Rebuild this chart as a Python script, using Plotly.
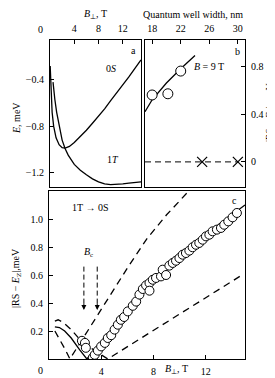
import plotly.graph_objects as go

# ---------------- data ----------------
# Panel a: energies vs B_perp
b_0S = [0.03, 0.1, 0.2, 0.35, 0.6, 1.0, 1.5, 2.0, 2.5, 3.2, 4, 5, 6, 7, 8, 9, 10, 11, 12, 13, 14, 15]
e_0S = [-0.28, -0.42, -0.55, -0.68, -0.8, -0.9, -0.96, -0.985, -0.99, -0.975, -0.94, -0.89, -0.835, -0.775, -0.715, -0.65, -0.58, -0.515, -0.445, -0.375, -0.3, -0.228]
b_1T = [0.5, 0.6, 0.8, 1.1, 1.5, 2.0, 2.5, 3.0, 4, 5, 6, 7, 8, 9, 10, 11, 12, 13, 14, 15]
e_1T = [-0.42, -0.49, -0.57, -0.68, -0.8, -0.92, -0.995, -1.05, -1.13, -1.18, -1.22, -1.255, -1.28, -1.298, -1.305, -1.303, -1.298, -1.292, -1.286, -1.28]

# Panel b: vs quantum well width
w_line = [17, 18, 20, 22, 24]
v_line = [0.42, 0.52, 0.66, 0.78, 0.89]
w_circ = [18, 20.2, 22]
v_circ = [0.56, 0.57, 0.76]
w_zero = [17, 30]
v_zero = [0, 0]
w_cross = [25, 30]
v_cross = [0, 0]

# Panel c: |RS - E_Z| vs B_perp
b_solid = [0.45, 0.8, 1.2, 1.7, 2.35, 2.9, 4, 5, 6, 7, 8, 9, 10, 11, 12, 13, 14, 15]
v_solid = [0.23, 0.225, 0.2, 0.15, 0.065, 0.0, 0.12, 0.23, 0.345, 0.455, 0.55, 0.64, 0.72, 0.8, 0.88, 0.96, 1.03, 1.1]
b_dash_up = [0.45, 0.8, 1.2, 1.6, 3.0, 4.5, 6.0, 7.5, 9.0, 10.7]
v_dash_up = [0.2, 0.145, 0.075, 0.0, 0.21, 0.43, 0.65, 0.86, 1.03, 1.2]
b_dash_lo = [0.45, 0.7, 1.1, 1.7, 2.4, 3.5, 4.5, 7, 10, 14.6]
v_dash_lo = [0.27, 0.28, 0.26, 0.21, 0.135, 0.06, 0.0, 0.145, 0.32, 0.59]
b_exp = [2.52, 2.75, 2.82, 3.36, 3.5, 3.74, 3.99, 4.27, 4.5, 4.76, 5.02, 5.27, 5.5, 5.75, 6.03, 6.41,
         6.67, 6.92, 7.18, 7.43, 7.69, 7.69, 7.94, 8.19, 8.57, 8.7, 8.96, 9.21, 9.47, 9.72, 9.98, 10.23,
         10.48, 10.74, 10.99, 11.25, 11.5, 11.76, 12.01, 12.27, 12.52, 12.85, 13.16, 13.41, 13.72, 14.05, 14.38]
v_exp = [0.13, 0.115, 0.08, 0.01, 0.03, 0.06, 0.09, 0.115, 0.15, 0.17, 0.21, 0.245, 0.28, 0.3, 0.34, 0.38,
         0.41, 0.46, 0.5, 0.526, 0.543, 0.488, 0.566, 0.579, 0.59, 0.638, 0.6, 0.667, 0.686, 0.702, 0.721, 0.745,
         0.757, 0.774, 0.798, 0.816, 0.829, 0.852, 0.876, 0.888, 0.912, 0.924, 0.936, 0.959, 0.983, 1.012, 1.043]
bc_x = [2.67, 3.69]

# -------------- figure --------------
W, H = 275, 378
FONT = "Liberation Serif"
def px(x):
    return x / W
def py(y):
    return 1 - y / H

fig = go.Figure()
line_k = dict(color="black", width=1.3)
dash_k = dict(color="black", width=1.3, dash="7px,5px")

fig.add_trace(go.Scatter(x=b_0S, y=e_0S, mode="lines", line=line_k, xaxis="x", yaxis="y"))
fig.add_trace(go.Scatter(x=b_1T, y=e_1T, mode="lines", line=line_k, xaxis="x", yaxis="y"))

fig.add_trace(go.Scatter(x=w_line, y=v_line, mode="lines", line=line_k, xaxis="x2", yaxis="y2"))
fig.add_trace(go.Scatter(x=w_circ, y=v_circ, mode="markers",
                         marker=dict(symbol="circle", size=10, color="white", line=dict(color="black", width=1)),
                         xaxis="x2", yaxis="y2"))
fig.add_trace(go.Scatter(x=w_zero, y=v_zero, mode="lines", line=dict(color="black", width=1, dash="6px,4px"),
                         xaxis="x2", yaxis="y2"))
fig.add_trace(go.Scatter(x=w_cross, y=v_cross, mode="markers",
                         marker=dict(symbol="x-thin-open", size=10, color="black",
                                     line=dict(color="black", width=1.2)),
                         xaxis="x2", yaxis="y2"))

fig.add_trace(go.Scatter(x=b_dash_up, y=v_dash_up, mode="lines", line=dash_k, xaxis="x3", yaxis="y3"))
fig.add_trace(go.Scatter(x=b_dash_lo, y=v_dash_lo, mode="lines", line=dash_k, xaxis="x3", yaxis="y3"))
fig.add_trace(go.Scatter(x=b_solid, y=v_solid, mode="lines", line=line_k, xaxis="x3", yaxis="y3"))
fig.add_trace(go.Scatter(x=b_exp, y=v_exp, mode="markers",
                         marker=dict(symbol="circle", size=9, color="white", line=dict(color="black", width=1)),
                         xaxis="x3", yaxis="y3"))

ax_common = dict(showline=True, linecolor="black", linewidth=1, mirror=True, ticks="inside",
                 ticklen=4, tickcolor="black", showgrid=False, zeroline=False,
                 tickfont=dict(family=FONT, size=10, color="black"), ticklabelstandoff=3)

fig.update_layout(
    width=W, height=H, autosize=False,
    margin=dict(l=0, r=0, t=0, b=0),
    paper_bgcolor="white", plot_bgcolor="white",
    showlegend=False,
    font=dict(family=FONT, size=10, color="black"),
    xaxis=dict(ax_common, domain=[px(42), px(133)], range=[0, 15], side="top",
               tickvals=[4, 8, 12], anchor="y"),
    yaxis=dict(ax_common, domain=[py(179), py(32)], range=[-1.325, -0.056],
               tickvals=[-0.4, -0.8, -1.2], ticktext=["\u22120.4", "\u22120.8", "\u22121.2"], anchor="x"),
    xaxis2=dict(ax_common, domain=[px(137), px(237)], range=[17, 31], side="top",
                tickvals=[18, 22, 26, 30], anchor="y2"),
    yaxis2=dict(ax_common, domain=[py(179), py(32)], range=[-0.21, 1.02], side="right",
                tickvals=[0, 0.4, 0.8], ticktext=["0", "0.4", "0.8"], anchor="x2"),
    xaxis3=dict(ax_common, domain=[px(41), px(237)], range=[0, 15],
                tickvals=[4, 8, 12], anchor="y3"),
    yaxis3=dict(ax_common, domain=[py(351), py(183)], range=[0, 1.2],
                tickvals=[0.2, 0.4, 0.6, 0.8, 1.0], ticktext=["0.2", "0.4", "0.6", "0.8", "1.0"], anchor="x3"),
)

def paper_text(x, y, text, angle=0, size=10):
    fig.add_annotation(x=px(x), y=py(y), xref="paper", yref="paper", text=text, showarrow=False,
                       textangle=angle, font=dict(family=FONT, size=size, color="black"),
                       xanchor="center", yanchor="middle", borderpad=0)

def data_text(x, y, text, xr, yr, size=10):
    fig.add_annotation(x=x, y=y, xref=xr, yref=yr, text=text, showarrow=False,
                       font=dict(family=FONT, size=size, color="black"), xanchor="center", yanchor="middle")

paper_text(87, 7, "<i>B</i><sub>\u22a5</sub>, T")
paper_text(185, 7, "Quantum well width, nm")
paper_text(32, 21, "0")
paper_text(9, 110, "<i>E</i>, meV", angle=-90)
paper_text(262, 105, "|RS \u2212 <i>E</i><sub>Z</sub>|, meV", angle=-90, size=9.5)
paper_text(8, 270, "|RS \u2212 <i>E</i><sub>Z</sub>|,meV", angle=-90)
paper_text(32, 362, "0")
paper_text(168, 361, "<i>B</i><sub>\u22a5</sub>, T")

data_text(10.0, -0.3, "0<i>S</i>", "x", "y")
data_text(13.7, -0.15, "a", "x", "y")
data_text(10.4, -1.09, "1<i>T</i>", "x", "y")
data_text(25.9, 0.80, "<i>B</i> = 9 T", "x2", "y2")
data_text(30.0, 0.925, "b", "x2", "y2")
data_text(3.2, 1.08, "1T \u2192 0S", "x3", "y3")
data_text(14.2, 1.13, "c", "x3", "y3")
data_text(3.05, 0.76, "<i>B</i><sub>c</sub>", "x3", "y3")

for bx in bc_x:
    fig.add_shape(type="line", x0=bx, x1=bx, y0=0.66, y1=0.40, xref="x3", yref="y3",
                  line=dict(color="black", width=1, dash="5px,3px"))
    fig.add_annotation(x=bx, y=0.35, ax=bx, ay=0.41, xref="x3", yref="y3", axref="x3", ayref="y3",
                       text="", showarrow=True, arrowhead=2, arrowsize=1, arrowwidth=1, arrowcolor="black")

fig.write_html("out.html")
